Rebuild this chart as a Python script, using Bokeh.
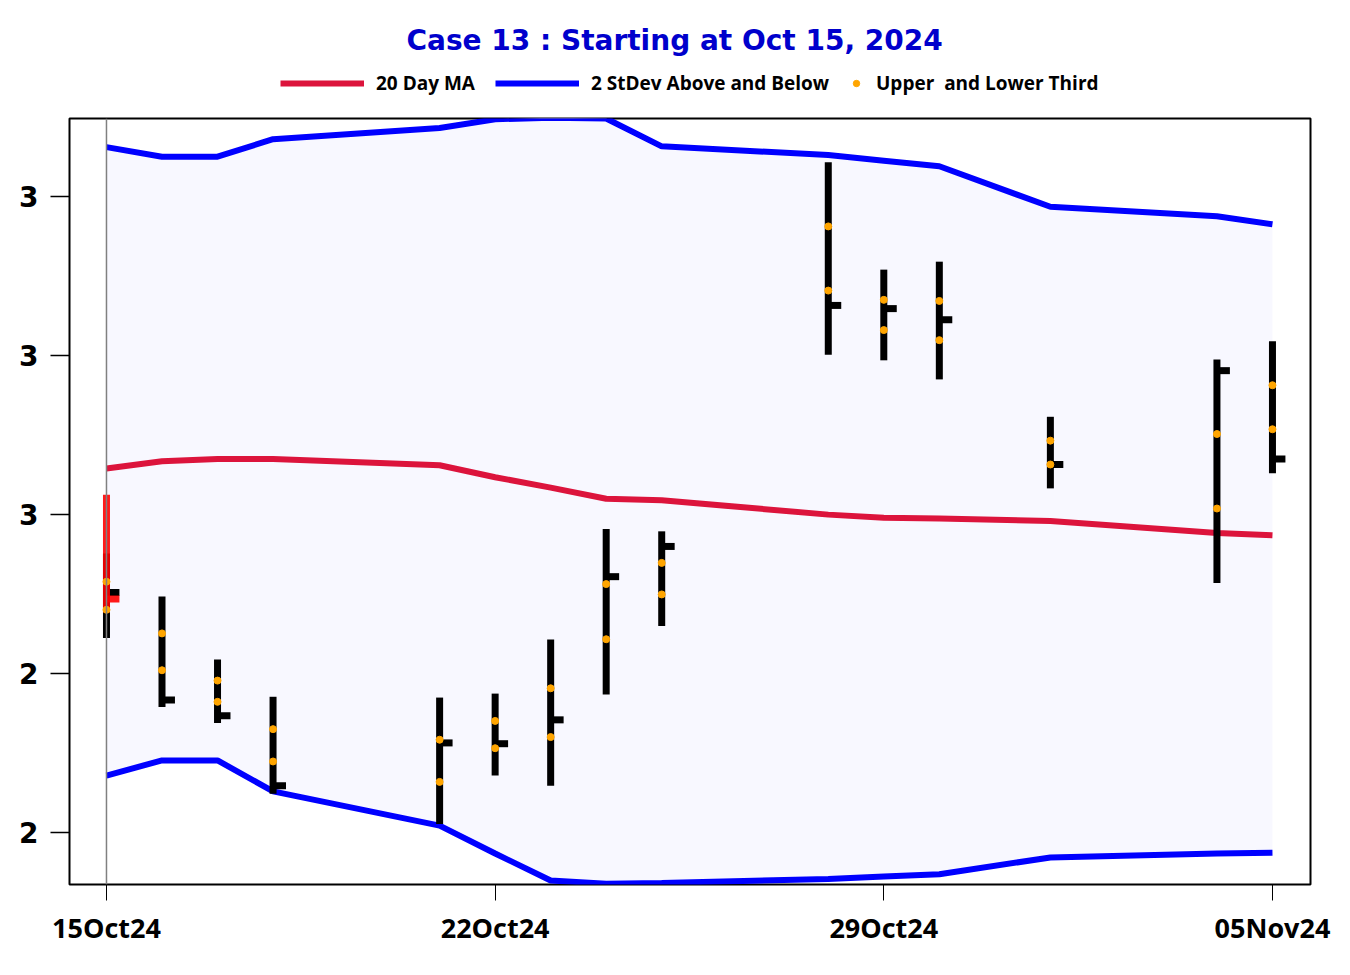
import pandas as pd
from bokeh.plotting import figure
from bokeh.layouts import column
from bokeh.models import (FixedTicker, DatetimeTickFormatter, Span, Legend, LegendItem,
                          Range1d, Label)
from bokeh.embed import file_html
from bokeh.resources import INLINE

# ---------------- data ----------------
dates = ["2024-10-15", "2024-10-16", "2024-10-17", "2024-10-18", "2024-10-21",
         "2024-10-22", "2024-10-23", "2024-10-24", "2024-10-25", "2024-10-28",
         "2024-10-29", "2024-10-30", "2024-11-01", "2024-11-04", "2024-11-05"]
high = [2.551, 2.497, 2.418, 2.371, 2.370, 2.375, 2.443, 2.582, 2.579, 3.043,
        2.908, 2.918, 2.723, 2.795, 2.818]
low = [2.445, 2.358, 2.338, 2.249, 2.211, 2.272, 2.259, 2.374, 2.460, 2.801,
       2.794, 2.770, 2.633, 2.514, 2.652]
close = [2.502, 2.367, 2.347, 2.259, 2.313, 2.312, 2.342, 2.522, 2.560, 2.863,
         2.859, 2.845, 2.663, 2.781, 2.670]
ma20 = [2.658, 2.667, 2.670, 2.670, 2.662, 2.647, 2.634, 2.620, 2.618, 2.600,
        2.596, 2.595, 2.592, 2.577, 2.574]
upper = [3.062, 3.050, 3.050, 3.072, 3.086, 3.097, 3.099, 3.098, 3.063, 3.052,
         3.045, 3.038, 2.987, 2.975, 2.965]
lower = [2.272, 2.291, 2.291, 2.252, 2.209, 2.174, 2.140, 2.136, 2.137, 2.142,
         2.145, 2.148, 2.169, 2.174, 2.175]

# starting day bar (highlighted in red)
start_date = ["2024-10-15"]
start_high = [2.625]
start_low = [2.477]
start_close = [2.494]

y_tick_values = [2.2, 2.4, 2.6, 2.8, 3.0]
y_tick_labels = ["2", "2", "3", "3", "3"]
x_tick_dates = ["2024-10-15", "2024-10-22", "2024-10-29", "2024-11-05"]

title_text = "Case 13 :  Starting at Oct 15, 2024"
legend_labels = ["20 Day MA", "2 StDev Above and Below", "Upper  and Lower Third"]

# ---------------- derived ----------------
dt = pd.to_datetime(dates)
sdt = pd.to_datetime(start_date)
upper_third = [l + (h - l) * 2.0 / 3.0 for h, l in zip(high, low)]
lower_third = [l + (h - l) / 3.0 for h, l in zip(high, low)]
tick_len = pd.Timedelta(hours=5.6)
day = pd.Timedelta(days=1)
nan = float("nan")

W = 1340
TOP_H = 110
FRAME_L = 69
FRAME_R = 1310

# ---------------- header figure (title + legend) ----------------
# its frame is aligned with the main chart frame by the column layout,
# so the x range is expressed in page pixels of that frame
top = figure(width=W, height=TOP_H, output_backend="svg", toolbar_location=None,
             x_axis_location=None, y_axis_location=None,
             x_range=Range1d(FRAME_L, FRAME_R), y_range=Range1d(0, TOP_H), min_border=0)
top.outline_line_color = None
top.xgrid.visible = False
top.ygrid.visible = False
top.background_fill_color = "white"
top.border_fill_color = "white"

top.add_layout(Label(x=679, y=TOP_H - 40, text=title_text, text_align="center",
                     text_baseline="middle", text_font="DejaVu Sans",
                     text_font_size="28px", text_font_style="bold", text_color="#0000CC"))

# legend proxies (no visible marks)
lr_ma = top.line(x=[nan], y=[nan], line_color="crimson", line_width=6)
lr_band = top.line(x=[nan], y=[nan], line_color="blue", line_width=6)
lr_dot = top.scatter(x=[nan], y=[nan], size=7, fill_color="orange", line_color="orange")


def make_legend(items, glyph_w, loc):
    lg = Legend(items=items, orientation="horizontal", location=loc,
                glyph_width=glyph_w, glyph_height=20, label_height=20,
                label_standoff=12, spacing=20, padding=0, margin=0,
                border_line_color=None, background_fill_alpha=0)
    lg.label_text_font = "Open Sans"
    lg.label_text_font_style = "bold"
    lg.label_text_font_size = "19px"
    lg.label_text_color = "black"
    return lg


leg1 = make_legend([LegendItem(label=legend_labels[0], renderers=[lr_ma]),
                    LegendItem(label=legend_labels[1], renderers=[lr_band])],
                   84, (280 - FRAME_L, 14))
leg2 = make_legend([LegendItem(label=legend_labels[2], renderers=[lr_dot])],
                   16, (848 - FRAME_L, 14))
top.add_layout(leg1, "center")
top.add_layout(leg2, "center")

# ---------------- main chart ----------------
p = figure(width=W, height=850, x_axis_type="datetime",
           output_backend="svg", toolbar_location=None,
           min_border_left=FRAME_L, min_border_right=W - FRAME_R,
           min_border_top=8, min_border_bottom=76,
           x_range=Range1d(dt[0] - 0.666 * day, dt[0] + 21.685 * day),
           y_range=Range1d(2.135, 3.098))

p.background_fill_color = "white"
p.border_fill_color = "white"
p.outline_line_color = "black"
p.outline_line_width = 2
p.xgrid.visible = False
p.ygrid.visible = False

p.varea(x=dt, y1=lower, y2=upper, fill_color="#F8F8FF")
p.add_layout(Span(location=dt[0], dimension="height", line_color="#808080", line_width=1.5))

p.line(dt, ma20, line_color="crimson", line_width=6)
p.line(dt, upper, line_color="blue", line_width=6)
p.line(dt, lower, line_color="blue", line_width=6)

# HLC bars
p.segment(x0=dt, y0=low, x1=dt, y1=high, line_color="black", line_width=7)
p.segment(x0=dt, y0=close, x1=dt + tick_len, y1=close, line_color="black", line_width=7)
p.segment(x0=sdt, y0=start_low, x1=sdt, y1=start_high, line_color="red", line_width=7, line_alpha=0.9)
p.segment(x0=sdt, y0=start_close, x1=sdt + tick_len, y1=start_close, line_color="red",
          line_width=7, line_alpha=0.9)

p.scatter(list(dt) + list(dt), upper_third + lower_third, size=7,
          fill_color="orange", line_color="orange")

# axes
yax = p.yaxis[0]
yax.ticker = FixedTicker(ticks=y_tick_values)
yax.major_label_overrides = {v: l for v, l in zip(y_tick_values, y_tick_labels)}
yax.major_tick_out = 19
yax.major_tick_in = 0
yax.minor_tick_out = 0
yax.minor_tick_in = 0
yax.major_tick_line_width = 1.5
yax.axis_line_color = None
yax.major_label_standoff = 12
yax.major_label_text_font = "DejaVu Sans"
yax.major_label_text_font_style = "bold"
yax.major_label_text_font_size = "28px"
yax.major_label_text_color = "black"

xax = p.xaxis[0]
xax.ticker = FixedTicker(ticks=[pd.Timestamp(d).value / 1e6 for d in x_tick_dates])
xax.formatter = DatetimeTickFormatter(days="%d%b%y", months="%d%b%y", years="%d%b%y",
                                      hours="%d%b%y", minutes="%d%b%y")
xax.major_tick_out = 16
xax.major_tick_in = 0
xax.minor_tick_out = 0
xax.minor_tick_in = 0
xax.major_tick_line_width = 1
xax.axis_line_color = None
xax.major_label_standoff = 8
xax.major_label_text_font = "Open Sans"
xax.major_label_text_font_style = "bold"
xax.major_label_text_font_size = "27px"
xax.major_label_text_color = "black"

layout = column(top, p, spacing=0)
open("out.html", "w").write(file_html(layout, INLINE))
